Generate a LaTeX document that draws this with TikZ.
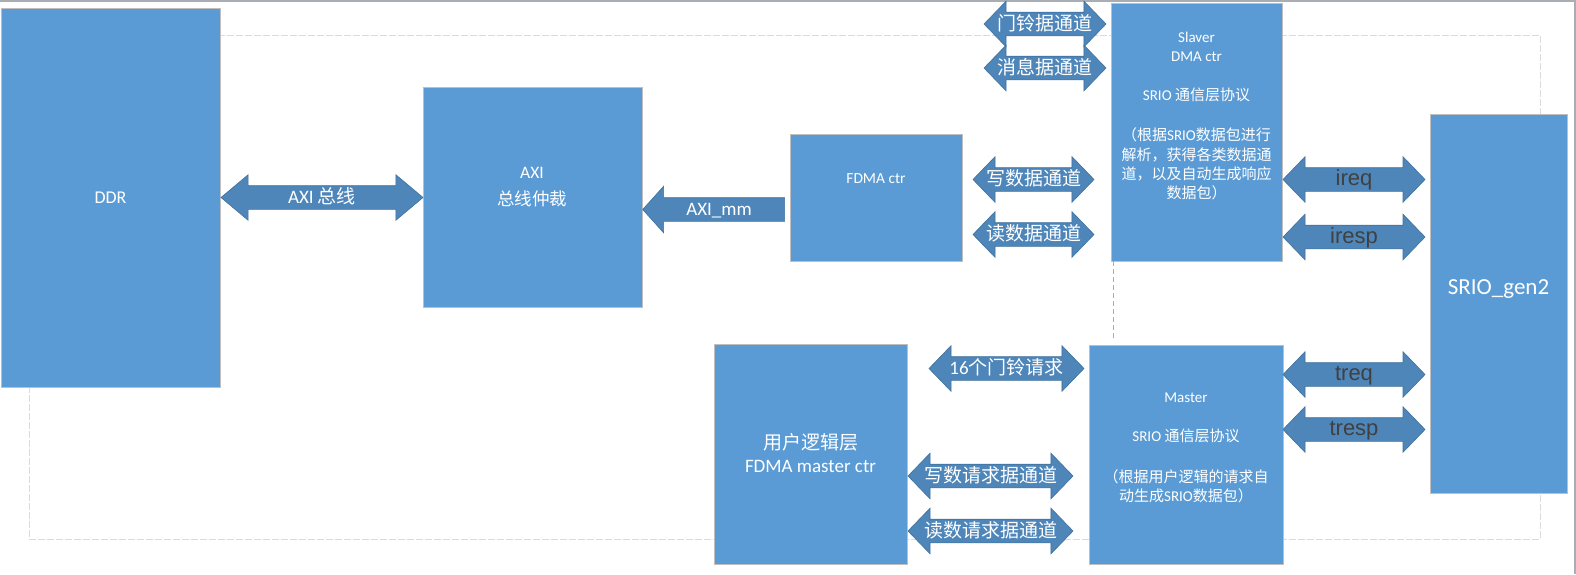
\documentclass[tikz,border=0pt]{standalone}
\usepackage{fontspec}
\setmainfont{Carlito}
\newfontfamily\cjk{Noto Sans CJK SC}
\newfontfamily\arialf{Liberation Sans}
\usetikzlibrary{shapes.arrows}
\definecolor{boxblue}{HTML}{5B9BD5}
\definecolor{boxedge}{HTML}{BFBFBF}
\definecolor{arrblue}{HTML}{4E86BA}
\definecolor{arredge}{HTML}{41719C}
\definecolor{framegray}{HTML}{A9AEB5}
\definecolor{labelgray}{HTML}{404040}
\newcommand{\zh}[1]{{\cjk #1}}
\newcommand{\ArrTxt}[1]{\makebox[0pt]{#1}}
\newcommand{\BlockAt}[5]{%
  \node[blockbox, minimum width={(#4-#2)*1pt}, minimum height={(#5-#3)*1pt}]
    (#1) at ({(#2+#4)/2},{(#3+#5)/2}) {};
}
\tikzset{
  blockbox/.style={draw=boxedge, line width=0.9pt, fill=boxblue, inner sep=0pt},
  boxtext/.style={text=white, align=center, inner sep=0pt},
  outline/.style={draw=gray!28, line width=1pt, dash pattern=on 7pt off 2pt},
  linkdash/.style={draw=gray!65, line width=1.3pt, dash pattern=on 5pt off 3pt},
  dblarrow/.style={
    double arrow, draw=arredge, line width=0.6pt, fill=arrblue,
    inner sep=0pt, text height=17.5pt, text depth=5.5pt,
    double arrow head extend=11pt, double arrow tip angle=92,
    text=white, font=\fontsize{19}{23}\selectfont
  },
  srioarrow/.style={dblarrow, text=labelgray, font=\arialf\fontsize{22}{26}\selectfont},
  onearrow/.style={
    single arrow, shape border rotate=180, draw=arredge, line width=0.6pt,
    fill=arrblue, inner sep=0pt, text height=17.5pt, text depth=5.5pt,
    single arrow head extend=11.5pt, single arrow tip angle=96,
    text=white, font=\fontsize{19}{23}\selectfont
  }
}

\begin{document}
\begin{tikzpicture}[x=1pt,y=-1pt]
  \useasboundingbox (0,0) rectangle (1576,574);
  \draw[framegray, line width=1.5pt] (0,0.75) -- (1575.2,0.75) -- (1575.2,574);
  \draw[outline] (29,35) rectangle (1540,539);

  % blocks
  \BlockAt{ddr}{1}{8}{220}{387}
  \BlockAt{axi}{423}{87}{642}{307}
  \BlockAt{fdma}{790}{134}{962}{261}
  \BlockAt{slaver}{1111}{3}{1282}{261}
  \BlockAt{srio}{1430}{114}{1567}{493}
  \BlockAt{master}{1089}{345}{1283}{564}
  \BlockAt{user}{714}{344}{907}{564}

  \node[boxtext, font=\fontsize{18}{22}\selectfont] (ddrtxt) at (ddr) {DDR};
  \node[boxtext, font=\fontsize{17.5}{27}\selectfont] (axitxt) at (532,187) {AXI\\\zh{总线仲裁}};
  \node[boxtext, font=\fontsize{15.4}{19}\selectfont] (fdmatxt) at (876,179) {FDMA ctr};
  \node[boxtext, font=\fontsize{15}{19.3}\selectfont] (slavertxt) at (1196.5,116)
    {Slaver\\DMA ctr\\[19.3pt]SRIO \zh{通信层协议}\\[21.5pt]\zh{（根据}SRIO\zh{数据包进行}\\
     \zh{解析，获得各类数据通}\\\zh{道，以及自动生成响应}\\\zh{数据包）}};
  \node[boxtext, font=\fontsize{23}{28}\selectfont] (sriotxt) at (1498.5,289) {SRIO\_gen2};
  \node[boxtext, font=\fontsize{15}{19.5}\selectfont] (mastertxt) at (1186,448)
    {Master\\[19.5pt]SRIO \zh{通信层协议}\\[21.5pt]\zh{（根据用户逻辑的请求自}\\\zh{动生成}SRIO\zh{数据包）}};
  \node[boxtext, font=\fontsize{19}{23}\selectfont] (usertxt) at ([yshift=1pt]user.center) {\zh{用户逻辑层}\\FDMA master ctr};

  \coordinate (linktop) at ([xshift=3pt]slaver.south west);
  \draw[linkdash, shorten >=5pt] (linktop) -- (linktop |- master.north);

  % block arrows
  \node[dblarrow, minimum height=202pt, double arrow tip angle=80] (axibus) at (322,197.5) {\ArrTxt{AXI \zh{总线}}};
  \node[onearrow, minimum height=142pt] (aximm) at (719,209.5) {\ArrTxt{AXI\_mm}};
  \node[dblarrow, minimum height=122pt] (bellch) at (1045,24) {\ArrTxt{\zh{门铃据通道}}};
  \node[dblarrow, minimum height=122pt] (msgch) at (1045,68) {\ArrTxt{\zh{消息据通道}}};
  \node[dblarrow, minimum height=121pt] (wrch) at (1033.5,179.5) {\ArrTxt{\zh{写数据通道}}};
  \node[dblarrow, minimum height=121pt] (rdch) at (1033.5,234.5) {\ArrTxt{\zh{读数据通道}}};
  \node[dblarrow, minimum height=155pt] (bellreq) at (1006.5,368.5) {\ArrTxt{16\zh{个门铃请求}}};
  \node[dblarrow, minimum height=165pt] (wrreq) at (990.5,476) {\ArrTxt{\zh{写数请求据通道}}};
  \node[dblarrow, minimum height=165pt] (rdreq) at (990.5,531) {\ArrTxt{\zh{读数请求据通道}}};
  \foreach \nm/\yy in {ireq/179.5, iresp/237, treq/374.5, tresp/429.5}
    \node[srioarrow, minimum height=142pt] (\nm) at (1354,\yy) {\ArrTxt{\nm}};
\end{tikzpicture}
\end{document}
